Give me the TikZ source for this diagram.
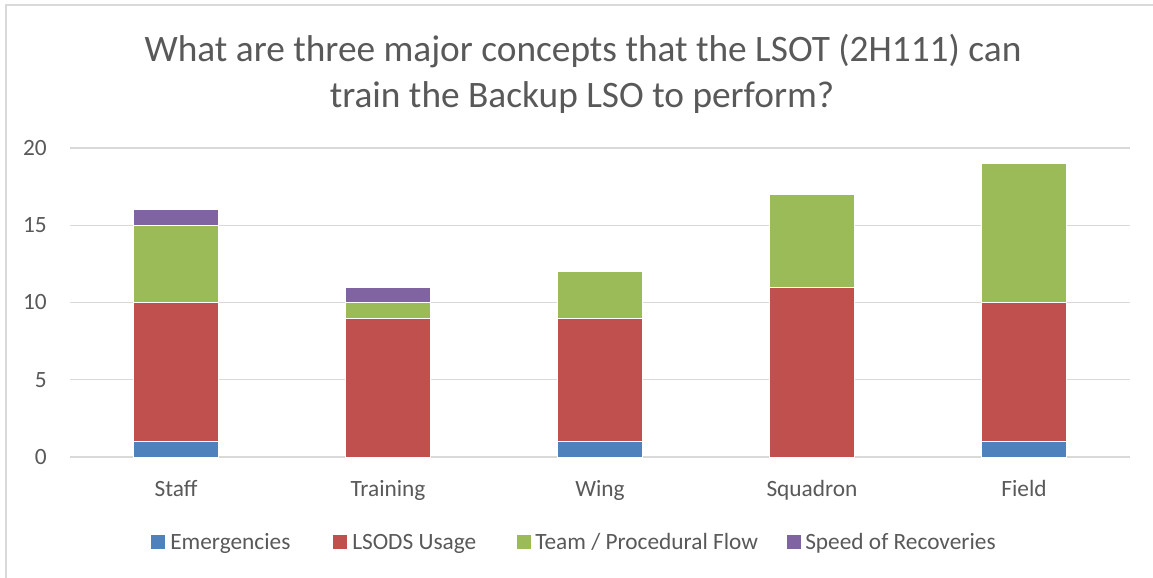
\documentclass[tikz,border=0pt]{standalone}
\usepackage{fontspec}
\setmainfont{Carlito}
\definecolor{cEm}{HTML}{4F81BD}
\definecolor{cLs}{HTML}{C0504D}
\definecolor{cTm}{HTML}{9BBB59}
\definecolor{cSp}{HTML}{8064A2}
\definecolor{txt}{HTML}{595959}
\definecolor{gridc}{HTML}{D9D9D9}
\tikzset{
  frameline/.style={draw=gridc, line width=1.5pt},
  gridline/.style={draw=gridc, line width=1.1pt},
  seg/.style={draw=white, line width=0.5pt},
  ticklab/.style={text=txt, font=\fontsize{17.5}{20}\selectfont, anchor=east, inner sep=0pt},
  catlab/.style={text=txt, font=\fontsize{17.5}{20}\selectfont, anchor=base, inner sep=0pt},
  leglab/.style={text=txt, font=\fontsize{17.5}{20}\selectfont, anchor=base west, inner sep=0pt},
  titlelab/.style={text=txt, font=\fontsize{28}{32}\selectfont, anchor=base, inner sep=0pt}
}
\begin{document}
\begin{tikzpicture}[x=0.75pt,y=-0.75pt]
\useasboundingbox (0,0) rectangle (1153,578);
\fill[white] (0,0) rectangle (1153,578);
% chart frame
\draw[frameline] (6,578) -- (6,5) -- (1153,5);
% title
\node[titlelab] (title1) at (583,61) {What are three major concepts that the LSOT (2H111) can};
\node[titlelab] (title2) at (582,107) {train the Backup LSO to perform?};
% value axis gridlines and labels
\foreach \v in {0,5,10,15,20}{
  \draw[gridline] (70,{457-15.45*\v}) -- (1130,{457-15.45*\v});
  \node[ticklab] (tick\v) at (47,{457-15.45*\v}) {\v};
}
% stacked bars: centre / Emergencies / LSODS Usage / Team / Speed / category
\foreach \cx/\a/\b/\c/\d/\lab in {176/1/9/5/1/Staff, 388/0/9/1/1/Training, 600/1/8/3/0/Wing, 812/0/11/6/0/Squadron, 1024/1/9/9/0/Field}{
  \pgfmathsetmacro\ya{\a}
  \pgfmathsetmacro\yb{\a+\b}
  \pgfmathsetmacro\yc{\a+\b+\c}
  \pgfmathsetmacro\yd{\a+\b+\c+\d}
  \ifdim\a pt>0pt \draw[seg,fill=cEm] ({\cx-42.5},457) rectangle ({\cx+42.5},{457-15.45*\ya}); \fi
  \ifdim\b pt>0pt \draw[seg,fill=cLs] ({\cx-42.5},{457-15.45*\ya}) rectangle ({\cx+42.5},{457-15.45*\yb}); \fi
  \ifdim\c pt>0pt \draw[seg,fill=cTm] ({\cx-42.5},{457-15.45*\yb}) rectangle ({\cx+42.5},{457-15.45*\yc}); \fi
  \ifdim\d pt>0pt \draw[seg,fill=cSp] ({\cx-42.5},{457-15.45*\yc}) rectangle ({\cx+42.5},{457-15.45*\yd}); \fi
  \node[catlab] (cat-\lab) at (\cx,496) {\lab};
}
% legend
\fill[cEm] (151,535) rectangle (165,549);
\node[leglab] (legEm) at (170,549) {Emergencies};
\fill[cLs] (333,535) rectangle (347,549);
\node[leglab] (legLs) at (352,549) {LSODS Usage};
\fill[cTm] (517,535) rectangle (531,549);
\node[leglab] (legTm) at (535,549) {Team / Procedural Flow};
\fill[cSp] (787,535) rectangle (801,549);
\node[leglab] (legSp) at (805,549) {Speed of Recoveries};
\end{tikzpicture}
\end{document}
